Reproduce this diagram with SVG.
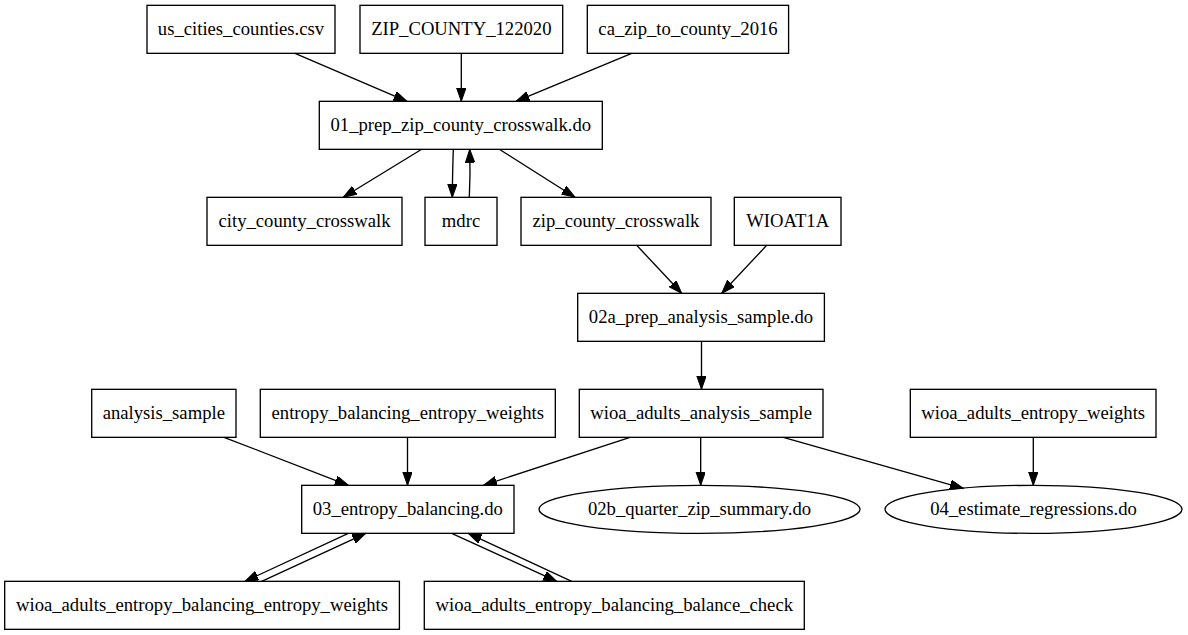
<svg xmlns="http://www.w3.org/2000/svg" width="1188" height="635" viewBox="0 0 1188 635">
<style>
.n rect, .n ellipse { fill: none; stroke: #000; stroke-width: 1.33; }
.n text { font-family: 'Liberation Serif', 'DejaVu Serif', serif; font-size: 18.67px; text-anchor: middle; fill: #000; }
#edges path { fill: none; stroke: #000; stroke-width: 1.33; marker-end: url(#ah); }
</style>
<defs>
<marker id="ah" markerUnits="userSpaceOnUse" markerWidth="14" markerHeight="10" refX="13.33" refY="4.67" orient="auto" viewBox="0 0 14 10">
<path d="M0,0 L13.33,4.67 L0,9.33 z" fill="#000" stroke="#000" stroke-width="1"/>
</marker>
</defs>
<rect x="0" y="0" width="1188" height="635" fill="#fff"/>
<g id="edges">
<path d="M295,53.3 L407,101.3"/>
<path d="M461.3,53.3 L461.3,101.3"/>
<path d="M631.7,53.3 L516,101.3"/>
<path d="M421.7,149.3 L343.3,197.3"/>
<path d="M453.3,149.3 C452.8,165 452.4,180 452.3,197.3"/>
<path d="M469.3,197.3 C470.2,180 470.2,165 469.7,149.3"/>
<path d="M499.3,149.3 L575,197.3"/>
<path d="M636.7,245.3 L681.7,293.3"/>
<path d="M766.7,245.3 L721.7,293.3"/>
<path d="M701.5,341.3 L701.5,389.3"/>
<path d="M224,437.3 L348.3,485.3"/>
<path d="M407.5,437.3 L407.5,485.3"/>
<path d="M630,437.3 L483.5,485.3"/>
<path d="M700.7,437.3 L700.7,485.3"/>
<path d="M783.3,437.3 L963.3,488.3"/>
<path d="M1033.3,437.3 L1033.3,485.3"/>
<path d="M348.3,533.3 L245,581.3"/>
<path d="M261.7,581.3 L365.7,533.3"/>
<path d="M451.7,533.3 L556.7,581.3"/>
<path d="M571.7,581.3 L468.3,533.3"/>
</g>
<g font-family="Liberation Serif, serif">
<g id="us_cities_counties" class="n"><rect x="147" y="5.33" width="188" height="48"/><text x="241" y="34.93">us_cities_counties.csv</text></g>
<g id="ZIP_COUNTY_122020" class="n"><rect x="360" y="5.33" width="202.7" height="48"/><text x="461.3" y="34.93">ZIP_COUNTY_122020</text></g>
<g id="ca_zip_to_county_2016" class="n"><rect x="587.3" y="5.33" width="201.3" height="48"/><text x="688" y="34.93">ca_zip_to_county_2016</text></g>
<g id="prep_zip_county_crosswalk" class="n"><rect x="319.3" y="101.33" width="283" height="48"/><text x="460.8" y="130.93">01_prep_zip_county_crosswalk.do</text></g>
<g id="city_county_crosswalk" class="n"><rect x="207" y="197.33" width="195" height="48"/><text x="304.5" y="226.93">city_county_crosswalk</text></g>
<g id="mdrc" class="n"><rect x="425" y="197.33" width="72" height="48"/><text x="461" y="226.93">mdrc</text></g>
<g id="zip_county_crosswalk" class="n"><rect x="521" y="197.33" width="190" height="48"/><text x="616" y="226.93">zip_county_crosswalk</text></g>
<g id="WIOAT1A" class="n"><rect x="734.3" y="197.33" width="106.7" height="48"/><text x="787.7" y="226.93">WIOAT1A</text></g>
<g id="prep_analysis_sample" class="n"><rect x="577.7" y="293.33" width="246.7" height="48"/><text x="701" y="322.93">02a_prep_analysis_sample.do</text></g>
<g id="analysis_sample" class="n"><rect x="91.7" y="389.33" width="144.3" height="48"/><text x="163.8" y="418.93">analysis_sample</text></g>
<g id="entropy_balancing_entropy_weights" class="n"><rect x="260.3" y="389.33" width="295" height="48"/><text x="407.8" y="418.93">entropy_balancing_entropy_weights</text></g>
<g id="wioa_adults_analysis_sample" class="n"><rect x="579.3" y="389.33" width="243.7" height="48"/><text x="701.2" y="418.93">wioa_adults_analysis_sample</text></g>
<g id="wioa_adults_entropy_weights" class="n"><rect x="910.3" y="389.33" width="245.7" height="48"/><text x="1033.2" y="418.93">wioa_adults_entropy_weights</text></g>
<g id="entropy_balancing" class="n"><rect x="301.7" y="485.33" width="212.3" height="48"/><text x="407.8" y="514.93">03_entropy_balancing.do</text></g>
<g id="quarter_zip_summary" class="n"><ellipse cx="699.5" cy="509.33" rx="160.5" ry="24"/><text x="699.5" y="514.93">02b_quarter_zip_summary.do</text></g>
<g id="estimate_regressions" class="n"><ellipse cx="1033.5" cy="509.33" rx="148.5" ry="24"/><text x="1033.5" y="514.93">04_estimate_regressions.do</text></g>
<g id="wioa_adults_entropy_balancing_entropy_weights" class="n"><rect x="4.7" y="581.33" width="394.7" height="48"/><text x="202" y="610.93">wioa_adults_entropy_balancing_entropy_weights</text></g>
<g id="wioa_adults_entropy_balancing_balance_check" class="n"><rect x="424.3" y="581.33" width="380" height="48"/><text x="614.3" y="610.93">wioa_adults_entropy_balancing_balance_check</text></g>
</g>
</svg>
